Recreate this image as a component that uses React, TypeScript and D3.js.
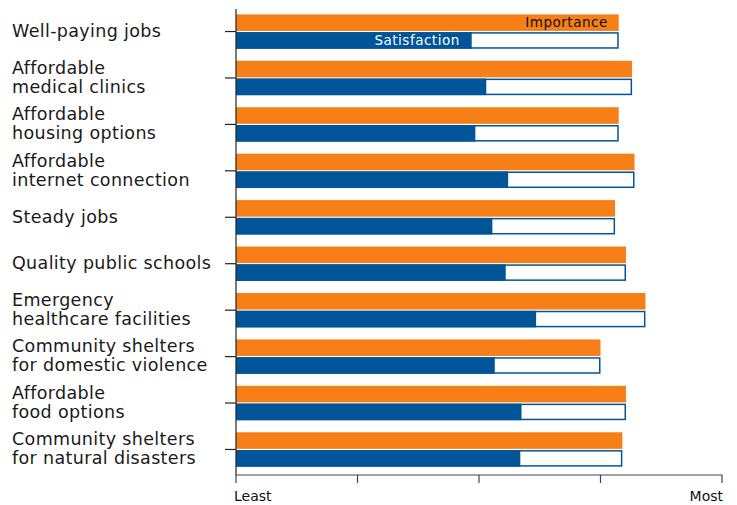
import React, { useEffect, useRef } from 'react';
import * as d3 from 'd3';

const categories = [
  ['Well-paying jobs'],
  ['Affordable', 'medical clinics'],
  ['Affordable', 'housing options'],
  ['Affordable', 'internet connection'],
  ['Steady jobs'],
  ['Quality public schools'],
  ['Emergency', 'healthcare facilities'],
  ['Community shelters', 'for domestic violence'],
  ['Affordable', 'food options'],
  ['Community shelters', 'for natural disasters'],
];

const importance = [4.15, 4.26, 4.15, 4.28, 4.12, 4.21, 4.37, 4.0, 4.21, 4.18];
const satisfaction = [2.94, 3.06, 2.97, 3.24, 3.11, 3.22, 3.47, 3.13, 3.35, 3.34];

const axisTicks = [1, 2, 3, 4, 5];
const axisLabels: Record<number, string> = { 1: 'Least', 5: 'Most' };

const ORANGE = '#f77f17';
const BLUE = '#005598';
const FONT = '"DejaVu Sans", sans-serif';

export default function App() {
  const svgRef = useRef<SVGSVGElement>(null);

  useEffect(() => {
    if (!svgRef.current) return;
    const svg = d3.select(svgRef.current);
    svg.selectAll('*').remove();

    const left = 236;
    const right = 722;
    const top = 6;
    const bottom = 475;

    const x = d3.scaleLinear().domain([1, 5]).range([left, right]);

    const names = categories.map((c) => c.join(' '));
    const y = d3.scaleBand<string>()
      .domain(names)
      .range([top, bottom])
      .paddingInner(0.26)
      .paddingOuter(0.18);

    const sub = d3.scaleBand<string>()
      .domain(['importance', 'satisfaction'])
      .range([0, y.bandwidth()])
      .paddingInner(0.07);

    const g = svg.append('g');

    // Barras
    names.forEach((name, i) => {
      const y0 = y(name)!;
      const yi = y0 + sub('importance')!;
      const ys = y0 + sub('satisfaction')!;
      const h = sub.bandwidth();

      g.append('rect')
        .attr('x', x(1))
        .attr('y', yi)
        .attr('width', x(importance[i]) - x(1))
        .attr('height', h)
        .attr('fill', ORANGE);

      // contorno hasta el valor de importancia
      g.append('rect')
        .attr('x', x(1) + 0.75)
        .attr('y', ys + 0.75)
        .attr('width', x(importance[i]) - x(1) - 1.5)
        .attr('height', h - 1.5)
        .attr('fill', '#fff')
        .attr('stroke', BLUE)
        .attr('stroke-width', 1.5);

      g.append('rect')
        .attr('x', x(1))
        .attr('y', ys)
        .attr('width', x(satisfaction[i]) - x(1))
        .attr('height', h)
        .attr('fill', BLUE);

      if (i === 0) {
        g.append('text')
          .attr('x', x(importance[i]) - 11)
          .attr('y', yi + h / 2)
          .attr('dy', '0.36em')
          .attr('text-anchor', 'end')
          .attr('font-family', FONT)
          .attr('font-size', 13.5)
          .attr('letter-spacing', 0.5)
          .attr('fill', '#111')
          .text('Importance');
        g.append('text')
          .attr('x', x(satisfaction[i]) - 12)
          .attr('y', ys + h / 2)
          .attr('dy', '0.36em')
          .attr('text-anchor', 'end')
          .attr('font-family', FONT)
          .attr('font-size', 13.5)
          .attr('letter-spacing', 0.5)
          .attr('fill', '#fff')
          .text('Satisfaction');
      }
    });

    // Eje Y
    g.append('line')
      .attr('x1', left).attr('x2', left)
      .attr('y1', 9).attr('y2', bottom)
      .attr('stroke', '#222').attr('stroke-width', 1.2);

    names.forEach((name, i) => {
      const cy = y(name)! + y.bandwidth() / 2;
      g.append('line')
        .attr('x1', left - 11).attr('x2', left)
        .attr('y1', cy).attr('y2', cy)
        .attr('stroke', '#222').attr('stroke-width', 1.2);

      const lines = categories[i];
      const lh = 19;
      const t = g.append('text')
        .attr('font-family', FONT)
        .attr('font-size', 17.5)
        .attr('letter-spacing', 0.35)
        .attr('fill', '#1a1a1a');
      lines.forEach((ln, j) => {
        t.append('tspan')
          .attr('x', 12)
          .attr('y', cy - ((lines.length - 1) * lh) / 2 + j * lh)
          .attr('dy', '0.3em')
          .text(ln);
      });
    });

    // Eje X
    g.append('line')
      .attr('x1', left).attr('x2', right)
      .attr('y1', bottom).attr('y2', bottom)
      .attr('stroke', '#444').attr('stroke-width', 1.2);

    axisTicks.forEach((tk) => {
      g.append('line')
        .attr('x1', x(tk)).attr('x2', x(tk))
        .attr('y1', bottom).attr('y2', bottom + 8)
        .attr('stroke', '#444').attr('stroke-width', 1.2);
      if (axisLabels[tk]) {
        g.append('text')
          .attr('x', tk === 1 ? x(tk) - 2 : x(tk) + 1)
          .attr('y', 501)
          .attr('text-anchor', tk === 1 ? 'start' : 'end')
          .attr('font-family', FONT)
          .attr('font-size', 14)
          .attr('fill', '#111')
          .text(axisLabels[tk]);
      }
    });
  }, []);

  return (
    <svg
      ref={svgRef}
      width={737}
      height={505}
      style={{ position: 'absolute', left: 0, top: 0, background: '#fff' }}
    />
  );
}
